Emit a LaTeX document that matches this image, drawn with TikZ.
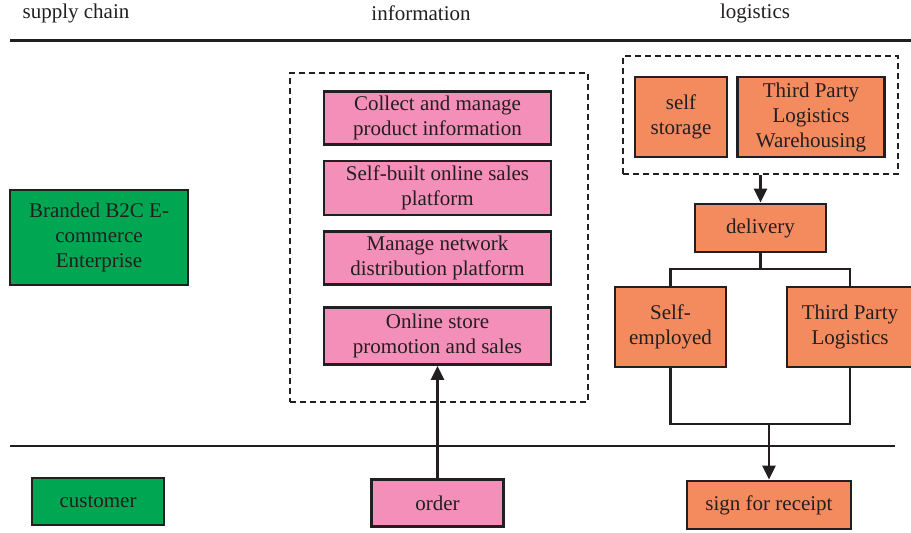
\documentclass[tikz,border=0pt]{standalone}
\usepackage{fontspec}
\setmainfont{Liberation Serif}
\usetikzlibrary{arrows.meta}
\definecolor{ink}{HTML}{231F20}
\definecolor{bgreen}{HTML}{00A651}
\definecolor{bpink}{HTML}{F38FB8}
\definecolor{borange}{HTML}{F48B5E}
\tikzset{
  box/.style={draw=ink, line width=2.8pt, inner sep=0pt, align=center, text=ink,
    font=\fontsize{21}{25}\selectfont},
  gbox/.style={box, fill=bgreen},
  pbox/.style={box, fill=bpink},
  obox/.style={box, fill=borange},
  dbox/.style={draw=ink, line width=2.3pt, dash pattern=on 6pt off 4pt, inner sep=0pt},
  hdr/.style={text=ink, font=\fontsize{21}{25}\selectfont, inner sep=0pt},
  conn/.style={draw=ink, line width=2.8pt},
  arr/.style={conn, -{Triangle[length=14pt,width=13pt]}},
  rule/.style={draw=ink},
}
\begin{document}
\begin{tikzpicture}[x=1pt,y=-1pt]
\useasboundingbox (0,0) rectangle (911,533);
% headers
\node[hdr] (h1) at (76,13) {supply chain};
\node[hdr] (h2) at (421,13) {information};
\node[hdr] (h3) at (755,13) {logistics};
% rules
\coordinate (t1) at (10,40); \coordinate (t2) at (911,40);
\coordinate (b1) at (10,446); \coordinate (b2) at (895,446);
\draw[rule, line width=3pt] (t1) -- (t2);
\draw[rule, line width=2.3pt] (b1) -- (b2);
% supply chain
\node[gbox, minimum width=178pt, minimum height=95pt] (brand) at (99,237.5) {Branded B2C E-\\commerce\\Enterprise};
\node[gbox, minimum width=132pt, minimum height=47pt] (cust) at (98,501.5) {customer};
% information
\node[dbox, minimum width=298pt, minimum height=329pt] (info) at (439,237.5) {};
\node[pbox, minimum width=227pt, minimum height=53pt] (p1) at (437.5,118) {Collect and manage\\product information};
\node[pbox, minimum width=227pt, minimum height=54pt] (p2) at (437.5,188) {Self-built online sales\\platform};
\node[pbox, minimum width=227pt, minimum height=53pt] (p3) at (437.5,258) {Manage network\\distribution platform};
\node[pbox, minimum width=227pt, minimum height=57pt] (p4) at (437.5,336) {Online store\\promotion and sales};
\node[pbox, minimum width=132pt, minimum height=47pt] (order) at (437.5,503) {order};
\draw[arr] (order.north) -- (p4.south);
% logistics
\node[dbox, minimum width=275pt, minimum height=118pt] (logbox) at (760.5,115) {};
\node[obox, minimum width=92pt, minimum height=80pt] (selfst) at (681,117) {self\\storage};
\node[obox, minimum width=147pt, minimum height=80pt] (tplw) at (811,117) {Third Party\\Logistics\\Warehousing};
\node[obox, minimum width=131pt, minimum height=48pt] (deliv) at (760.5,228) {delivery};
\node[obox, minimum width=111pt, minimum height=80pt] (selfemp) at (670.5,327) {Self-\\employed};
\node[obox, minimum width=126pt, minimum height=80pt] (tpl) at (850,327) {Third Party\\Logistics};
\node[obox, minimum width=164pt, minimum height=48pt] (sign) at (769,505) {sign for receipt};
\draw[arr] (logbox.south) -- (deliv.north);
\coordinate (jt) at (760.5,269);
\coordinate (jb) at (769,424);
\draw[conn] (deliv.south) -- (jt);
\draw[conn] (selfemp.north) -- (selfemp.north |- jt) -- (tpl.north |- jt) -- (tpl.north);
\draw[conn] (selfemp.south) -- (selfemp.south |- jb) -- (tpl.south |- jb) -- (tpl.south);
\draw[arr] (jb) -- (sign.north);
\end{tikzpicture}
\end{document}
